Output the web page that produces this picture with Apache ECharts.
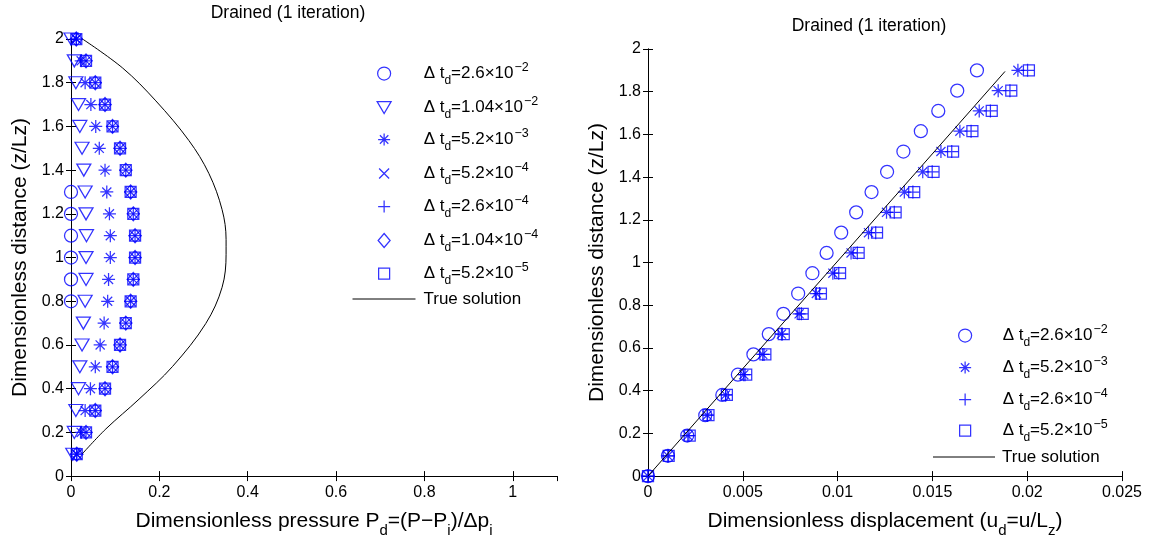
<!DOCTYPE html>
<html><head><meta charset="utf-8">
<script src="https://cdn.jsdelivr.net/npm/echarts@6/dist/echarts.min.js"></script>
<style>html,body{margin:0;padding:0;background:#fff}#c{width:1151px;height:543px}</style>
</head><body><div id="c"></div>
<script>
// ---------- LEFT PLOT DATA (pressure profile) ----------
const zLeft = [2.0, 1.9, 1.8, 1.7, 1.6, 1.5, 1.4, 1.3, 1.2, 1.1, 1.0, 0.9, 0.8, 0.7, 0.6, 0.5, 0.4, 0.3, 0.2, 0.1];
const zCircleLeft = [1.3, 1.2, 1.1, 1.0, 0.9, 0.8];
const pCircle = [0, 0, 0, 0, 0, 0];
const pTriangle = [0.0, 0.0075, 0.011, 0.017, 0.02, 0.025, 0.029, 0.032, 0.034, 0.035, 0.034, 0.034, 0.032, 0.028, 0.025, 0.02, 0.017, 0.011, 0.0075, 0.004];
const pStar = [0.012, 0.023, 0.032, 0.045, 0.056, 0.064, 0.077, 0.081, 0.087, 0.089, 0.089, 0.085, 0.083, 0.075, 0.066, 0.055, 0.044, 0.032, 0.023, 0.013];
const pCross = [0.012, 0.034, 0.055, 0.077, 0.094, 0.111, 0.124, 0.135, 0.141, 0.145, 0.145, 0.141, 0.135, 0.124, 0.111, 0.094, 0.077, 0.055, 0.034, 0.013];
const pPlus = [0.012, 0.034, 0.055, 0.077, 0.094, 0.111, 0.124, 0.135, 0.141, 0.145, 0.145, 0.141, 0.135, 0.124, 0.111, 0.094, 0.077, 0.055, 0.034, 0.013];
const pDiamond = [0.012, 0.034, 0.055, 0.077, 0.094, 0.111, 0.124, 0.135, 0.141, 0.145, 0.145, 0.141, 0.135, 0.124, 0.111, 0.094, 0.077, 0.055, 0.034, 0.013];
const pSquare = [0.012, 0.034, 0.055, 0.077, 0.094, 0.111, 0.124, 0.135, 0.141, 0.145, 0.145, 0.141, 0.135, 0.124, 0.111, 0.094, 0.077, 0.055, 0.034, 0.013];
const pTrue = [0.026, 0.117, 0.192, 0.267, 0.312, 0.342, 0.351, 0.351, 0.342, 0.305, 0.23, 0.154, 0.079, 0.026];
const zTrueLeft = [2.0, 1.867, 1.717, 1.535, 1.385, 1.219, 1.083, 1.015, 0.864, 0.698, 0.502, 0.352, 0.216, 0.103];

// ---------- RIGHT PLOT DATA (displacement profile) ----------
const zRight = [0, 0.095, 0.19, 0.285, 0.38, 0.475, 0.57, 0.665, 0.76, 0.855, 0.95, 1.045, 1.14, 1.235, 1.33, 1.425, 1.52, 1.615, 1.71, 1.805, 1.9];
const uCircle = [0, 0.00105, 0.00207, 0.00302, 0.00392, 0.00474, 0.00556, 0.00637, 0.00714, 0.00792, 0.00867, 0.00942, 0.01019, 0.01098, 0.01179, 0.01261, 0.01347, 0.01439, 0.01531, 0.01631, 0.01735];
const uStar = [0, 0.00105, 0.0021, 0.00312, 0.00409, 0.00505, 0.00605, 0.00704, 0.00797, 0.00888, 0.00975, 0.01071, 0.01163, 0.01258, 0.01352, 0.01449, 0.01545, 0.01645, 0.01747, 0.01847, 0.01951];
const uPlus = [0, 0.00107, 0.00216, 0.00314, 0.0041, 0.00512, 0.00612, 0.00709, 0.00809, 0.00905, 0.01006, 0.01104, 0.01201, 0.01299, 0.01397, 0.01499, 0.01602, 0.01704, 0.01806, 0.01909, 0.02002];
const uSquare = [0, 0.00109, 0.0022, 0.00319, 0.00416, 0.00518, 0.00619, 0.00716, 0.00816, 0.00912, 0.01013, 0.01111, 0.01208, 0.01306, 0.01404, 0.01506, 0.01609, 0.01711, 0.01813, 0.01916, 0.02009];
const uTrue = [0, 0.00755, 0.01322, 0.01883];
const zTrueRight = [0, 0.76, 1.33, 1.895];

// ---------- LABELS ----------
const titleText = 'Drained (1 iteration)';
const leftMantissas = ['2.6', '1.04', '5.2', '5.2', '2.6', '1.04', '5.2'];
const leftExponents = ['\u22122', '\u22122', '\u22123', '\u22124', '\u22124', '\u22124', '\u22125'];
const rightMantissas = ['2.6', '5.2', '2.6', '5.2'];
const rightExponents = ['\u22122', '\u22123', '\u22124', '\u22125'];
const trueLabel = 'True solution';
const yAxisTitle = 'Dimensionless distance (z/Lz)';

const FONT = '"Liberation Sans", Arial, Helvetica, sans-serif';
const BLUE = '#0000ff';
const SYM = {
  circle: 'circle',
  tri: 'path://M0,0L14,0L7,12Z',
  star: 'path://M0,5L10,5M5,0L5,10M1.5,1.5L8.5,8.5M1.5,8.5L8.5,1.5',
  cross: 'path://M0,0L10,10M0,10L10,0',
  plus: 'path://M0,5L10,5M5,0L5,10',
  diamond: 'path://M6,0L12,7L6,14L0,7Z',
  square: 'path://M0,0L10,0L10,10L0,10Z'
};
const zip = (xs, ys) => xs.map((x, i) => [x, ys[i]]);

function legendRich(mant, exp) {
  return '{a|\u0394 t}{b|d}{a|=' + mant + '\u00d710}{c|' + exp + '}';
}
const labelFor = {};
function scatter(name, xs, ys, sym, size, xi, yi, label) {
  labelFor[name] = label;
  return {
    type: 'scatter', name: name, xAxisIndex: xi, yAxisIndex: yi,
    data: zip(xs, ys), symbol: sym, symbolSize: size, clip: false, silent: true,
    itemStyle: { color: 'rgba(0,0,0,0)', borderColor: BLUE, borderWidth: 1.25 }
  };
}

const leftSeries = [
  scatter('L0', pCircle, zCircleLeft, SYM.circle, 13, 0, 0, legendRich(leftMantissas[0], leftExponents[0])),
  scatter('L1', pTriangle, zLeft, SYM.tri, [14, 12], 0, 0, legendRich(leftMantissas[1], leftExponents[1])),
  scatter('L2', pStar, zLeft, SYM.star, 13, 0, 0, legendRich(leftMantissas[2], leftExponents[2])),
  scatter('L3', pCross, zLeft, SYM.cross, 10, 0, 0, legendRich(leftMantissas[3], leftExponents[3])),
  scatter('L4', pPlus, zLeft, SYM.plus, 13, 0, 0, legendRich(leftMantissas[4], leftExponents[4])),
  scatter('L5', pDiamond, zLeft, SYM.diamond, [12, 14], 0, 0, legendRich(leftMantissas[5], leftExponents[5])),
  scatter('L6', pSquare, zLeft, SYM.square, 11, 0, 0, legendRich(leftMantissas[6], leftExponents[6]))
];
const rightSeries = [
  scatter('R0', uCircle, zRight, SYM.circle, 13, 2, 2, legendRich(rightMantissas[0], rightExponents[0])),
  scatter('R1', uStar, zRight, SYM.star, 13, 2, 2, legendRich(rightMantissas[1], rightExponents[1])),
  scatter('R2', uPlus, zRight, SYM.plus, 13, 2, 2, legendRich(rightMantissas[2], rightExponents[2])),
  scatter('R3', uSquare, zRight, SYM.square, 11, 2, 2, legendRich(rightMantissas[3], rightExponents[3]))
];
labelFor['LT'] = '{t|' + trueLabel + '}';
labelFor['RT'] = '{u|' + trueLabel + '}';
const lineSeries = [
  { type: 'line', name: 'LT', xAxisIndex: 0, yAxisIndex: 0, data: zip(pTrue, zTrueLeft), smooth: 0.35,
    showSymbol: false, symbol: 'none', silent: true, lineStyle: { color: '#000', width: 1 }, itemStyle: { color: '#000' } },
  { type: 'line', name: 'RT', xAxisIndex: 2, yAxisIndex: 2, data: zip(uTrue, zTrueRight),
    showSymbol: false, symbol: 'none', silent: true, lineStyle: { color: '#000', width: 1 }, itemStyle: { color: '#000' } }
];

const rich = {
  a: { fontSize: 17, fontFamily: FONT, color: '#000', lineHeight: 20 },
  b: { fontSize: 12, fontFamily: FONT, color: '#000', lineHeight: 20, padding: [15, 0, 0, 0] },
  c: { fontSize: 12.5, fontFamily: FONT, color: '#000', lineHeight: 20, padding: [0, 0, 12, 1] },
  t: { fontSize: 17, fontFamily: FONT, color: '#000', lineHeight: 20, padding: [0, 0, 0, 3] },
  u: { fontSize: 17, fontFamily: FONT, color: '#000', lineHeight: 20, padding: [0, 0, 0, 2] }
};
// symbol legend: bounding box starts at the icon's left edge, so left = iconCenter - iconWidth/2
function legendItem(name, cx, cy, w, h, iconW, isLine) {
  return {
    data: [name], left: isLine ? cx : cx - iconW / 2, top: cy - 10, itemWidth: w, itemHeight: h, padding: 0,
    orient: 'vertical', selectedMode: false, itemGap: 0,
    itemStyle: isLine ? { opacity: 0, borderWidth: 0 } : { borderWidth: 1.25 },
    lineStyle: { width: 1, color: '#000' },
    textStyle: { fontSize: 17, fontFamily: FONT, color: '#000', lineHeight: 20, rich: rich },
    formatter: function (n) { return labelFor[n]; }
  };
}
const legends = [
  legendItem('L0', 383.5, 70, 69, 13, 13),
  legendItem('L1', 383.5, 104, 69, 12, 14),
  legendItem('L2', 383.5, 136, 69, 12, 12),
  legendItem('L3', 383.5, 170, 69, 10, 10),
  legendItem('L4', 383.5, 203, 69, 12, 12),
  legendItem('L5', 383.5, 237, 69, 14, 12),
  legendItem('L6', 383.5, 270, 69, 11, 11),
  legendItem('LT', 352, 299, 63, 14, 0, true),
  legendItem('R0', 964.5, 332, 65, 13, 13),
  legendItem('R1', 964.5, 364, 65, 12, 12),
  legendItem('R2', 964.5, 396, 65, 12, 12),
  legendItem('R3', 964.5, 427, 65, 11, 11),
  legendItem('RT', 932.5, 457, 62, 14, 0, true)
];

const axLine = { show: true, lineStyle: { color: '#000', width: 1 } };
const tick = { show: true, inside: true, length: 5, lineStyle: { color: '#000', width: 1 } };
const tickLabel = { color: '#000', fontSize: 16, fontFamily: FONT };
const nameRich = {
  n: { fontSize: 21, fontFamily: FONT, color: '#000', lineHeight: 24 },
  s: { fontSize: 15, fontFamily: FONT, color: '#000', lineHeight: 24, padding: [18, 0, 0, 0] }
};

const option = {
  animation: false,
  backgroundColor: '#fff',
  textStyle: { fontFamily: FONT },
  grid: [
    { left: 71, top: 39, width: 486, height: 442, containLabel: false },
    { left: 648, top: 49, width: 474, height: 432, containLabel: false }
  ],
  xAxis: [
    { type: 'value', gridIndex: 0, position: 'bottom', min: 0, max: 1.1, interval: 0.2,
      axisLine: axLine, axisTick: tick, splitLine: { show: false },
      axisLabel: Object.assign({ margin: 8, showMaxLabel: false,
        formatter: v => (Math.abs(v - 1.1) < 1e-9 ? '' : String(+v.toFixed(4))) }, tickLabel),
      name: '{n|Dimensionless pressure P}{s|d}{n|=(P\u2212P}{s|i}{n|)/\u0394p}{s|i}',
      nameLocation: 'middle', nameGap: 25, nameTextStyle: { rich: nameRich, lineHeight: 24 } },
    { type: 'value', gridIndex: 0, position: 'top', min: 0, max: 1.1, interval: 0.2,
      axisLine: axLine, axisTick: tick, axisLabel: { show: false }, splitLine: { show: false } },
    { type: 'value', gridIndex: 1, position: 'bottom', min: 0, max: 0.025, interval: 0.005,
      axisLine: axLine, axisTick: tick, splitLine: { show: false },
      axisLabel: Object.assign({ margin: 8, formatter: v => String(+v.toFixed(4)) }, tickLabel),
      name: '{n|Dimensionless displacement (u}{s|d}{n|=u/L}{s|z}{n|)}',
      nameLocation: 'middle', nameGap: 25, nameTextStyle: { rich: nameRich, lineHeight: 24 } },
    { type: 'value', gridIndex: 1, position: 'top', min: 0, max: 0.025, interval: 0.005,
      axisLine: axLine, axisTick: tick, axisLabel: { show: false }, splitLine: { show: false } }
  ],
  yAxis: [
    { type: 'value', gridIndex: 0, position: 'left', min: 0, max: 2, interval: 0.2,
      axisLine: axLine, axisTick: tick, splitLine: { show: false },
      axisLabel: Object.assign({ margin: 7, formatter: v => String(+v.toFixed(4)) }, tickLabel),
      name: yAxisTitle, nameLocation: 'middle', nameGap: 39,
      nameTextStyle: { fontSize: 21, fontFamily: FONT, color: '#000', lineHeight: 24 } },
    { type: 'value', gridIndex: 0, position: 'right', min: 0, max: 2, interval: 0.2,
      axisLine: axLine, axisTick: tick, axisLabel: { show: false }, splitLine: { show: false } },
    { type: 'value', gridIndex: 1, position: 'left', min: 0, max: 2, interval: 0.2,
      axisLine: axLine, axisTick: tick, splitLine: { show: false },
      axisLabel: Object.assign({ margin: 7, formatter: v => String(+v.toFixed(4)) }, tickLabel),
      name: yAxisTitle, nameLocation: 'middle', nameGap: 39,
      nameTextStyle: { fontSize: 21, fontFamily: FONT, color: '#000', lineHeight: 24 } },
    { type: 'value', gridIndex: 1, position: 'right', min: 0, max: 2, interval: 0.2,
      axisLine: axLine, axisTick: tick, axisLabel: { show: false }, splitLine: { show: false } }
  ],
  legend: legends,
  graphic: [
    { type: 'text', x: 288, y: 13, silent: true,
      style: { text: titleText, fill: '#000', font: '17.5px ' + FONT, align: 'center', verticalAlign: 'middle' } },
    { type: 'text', x: 869, y: 26, silent: true,
      style: { text: titleText, fill: '#000', font: '17.5px ' + FONT, align: 'center', verticalAlign: 'middle' } }
  ],
  series: leftSeries.concat(rightSeries).concat(lineSeries)
};
const chart = echarts.init(document.getElementById('c'), null, { renderer: 'canvas' });
chart.setOption(option);
</script>
</body></html>
